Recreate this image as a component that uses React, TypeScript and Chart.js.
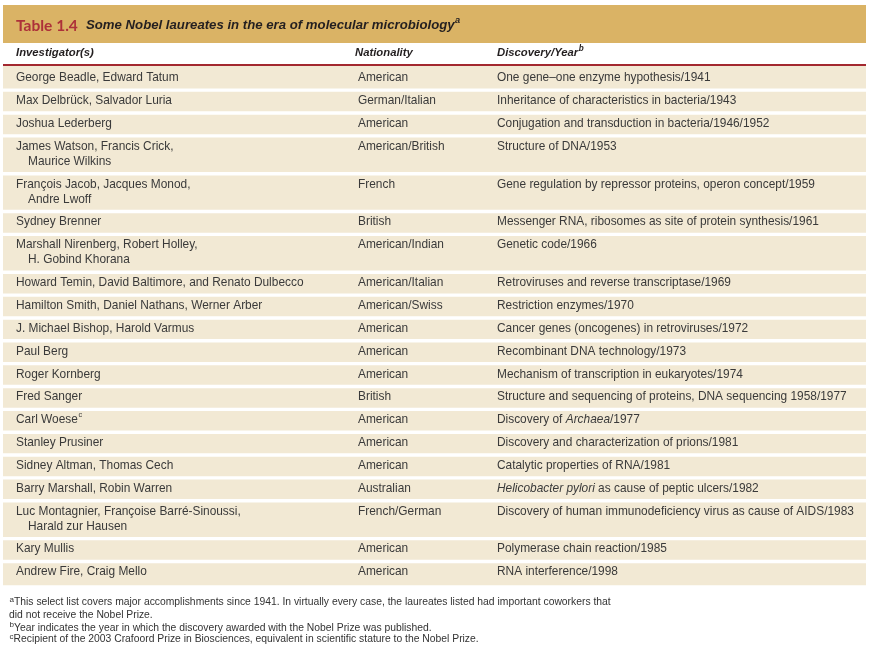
import React, { useEffect, useRef } from 'react';
import { Chart, registerables } from 'chart.js';

Chart.register(...registerables);

// ---------- data ----------
const tableNumber = 'Table 1.4';
const tableTitle = 'Some Nobel laureates in the era of molecular microbiology^a';
const columnHeaders = ['Investigator(s)', 'Nationality', 'Discovery/Year^b'];

const investigators = [
  'George Beadle, Edward Tatum',
  'Max Delbrück, Salvador Luria',
  'Joshua Lederberg',
  'James Watson, Francis Crick,\nMaurice Wilkins',
  'François Jacob, Jacques Monod,\nAndre Lwoff',
  'Sydney Brenner',
  'Marshall Nirenberg, Robert Holley,\nH. Gobind Khorana',
  'Howard Temin, David Baltimore, and Renato Dulbecco',
  'Hamilton Smith, Daniel Nathans, Werner Arber',
  'J. Michael Bishop, Harold Varmus',
  'Paul Berg',
  'Roger Kornberg',
  'Fred Sanger',
  'Carl Woese^c',
  'Stanley Prusiner',
  'Sidney Altman, Thomas Cech',
  'Barry Marshall, Robin Warren',
  'Luc Montagnier, Françoise Barré-Sinoussi,\nHarald zur Hausen',
  'Kary Mullis',
  'Andrew Fire, Craig Mello',
];

const nationalities = [
  'American',
  'German/Italian',
  'American',
  'American/British',
  'French',
  'British',
  'American/Indian',
  'American/Italian',
  'American/Swiss',
  'American',
  'American',
  'American',
  'British',
  'American',
  'American',
  'American',
  'Australian',
  'French/German',
  'American',
  'American',
];

const discoveries = [
  'One gene–one enzyme hypothesis/1941',
  'Inheritance of characteristics in bacteria/1943',
  'Conjugation and transduction in bacteria/1946/1952',
  'Structure of DNA/1953',
  'Gene regulation by repressor proteins, operon concept/1959',
  'Messenger RNA, ribosomes as site of protein synthesis/1961',
  'Genetic code/1966',
  'Retroviruses and reverse transcriptase/1969',
  'Restriction enzymes/1970',
  'Cancer genes (oncogenes) in retroviruses/1972',
  'Recombinant DNA technology/1973',
  'Mechanism of transcription in eukaryotes/1974',
  'Structure and sequencing of proteins, DNA sequencing 1958/1977',
  'Discovery of _Archaea_/1977',
  'Discovery and characterization of prions/1981',
  'Catalytic properties of RNA/1981',
  '_Helicobacter pylori_ as cause of peptic ulcers/1982',
  'Discovery of human immunodeficiency virus as cause of AIDS/1983',
  'Polymerase chain reaction/1985',
  'RNA interference/1998',
];

const footnotes = [
  '^aThis select list covers major accomplishments since 1941. In virtually every case, the laureates listed had important coworkers that',
  'did not receive the Nobel Prize.',
  '^bYear indicates the year in which the discovery awarded with the Nobel Prize was published.',
  '^cRecipient of the 2003 Crafoord Prize in Biosciences, equivalent in scientific stature to the Nobel Prize.',
];

// ---------- layout (table units, 1 unit = 1 px) ----------
const BAND_H = 38;
const HEADER_END = 59;
const RULE_H = 2;
const FIRST_ROW_TOP = 64;
const ROW_PITCH = 22.85;
const LINE_EXTRA = 15;
const ROW_GAP = 3.4;
const LAST_EXTRA = 3;

const lineCounts = investigators.map((s) => s.split('\n').length);
const rowTops: number[] = [];
{
  let t = FIRST_ROW_TOP;
  lineCounts.forEach((n) => {
    rowTops.push(t);
    t += ROW_PITCH + LINE_EXTRA * (n - 1);
  });
}
const rowBottoms = rowTops.map((t, i) => {
  let b = t + ROW_PITCH + LINE_EXTRA * (lineCounts[i] - 1) - ROW_GAP;
  if (i === rowTops.length - 1) b += LAST_EXTRA;
  return b;
});
const rowStarts = rowTops.map((t, i) => (i === 0 ? HEADER_END + RULE_H : t));
const TABLE_H = rowBottoms[rowBottoms.length - 1];

const COLORS = {
  band: '#dab365',
  rule: '#a3282f',
  row: '#f2e9d4',
  title: '#ad3139',
  dark: '#231f20',
  body: '#3a3a3a',
  note: '#333333',
};

const SANS = '"Liberation Sans", Arial, Helvetica, sans-serif';

type FontSpec = { size: number; weight?: string; italic?: boolean; family?: string };

function fontStr(f: FontSpec, italic: boolean, size: number) {
  return `${italic ? 'italic ' : ''}${f.weight || 'normal'} ${size}px ${f.family || SANS}`;
}

// '_' toggles italic, '^x' renders x as superscript
function drawRich(
  ctx: CanvasRenderingContext2D,
  text: string,
  x: number,
  y: number,
  f: FontSpec,
  color: string,
  supScale = 0.68,
  supRise = 0.38
) {
  let italic = !!f.italic;
  let cx = x;
  let buf = '';
  const flush = () => {
    if (!buf) return;
    ctx.font = fontStr(f, italic, f.size);
    ctx.fillText(buf, cx, y);
    cx += ctx.measureText(buf).width;
    buf = '';
  };
  ctx.fillStyle = color;
  ctx.textBaseline = 'middle';
  ctx.textAlign = 'left';
  for (let i = 0; i < text.length; i++) {
    const ch = text[i];
    if (ch === '_') {
      flush();
      italic = !italic;
    } else if (ch === '^' && i + 1 < text.length) {
      flush();
      const s = text[i + 1];
      const sz = f.size * supScale;
      ctx.font = fontStr(f, italic, sz);
      ctx.fillText(s, cx + 0.5, y - f.size * supRise);
      cx += ctx.measureText(s).width + 0.5;
      i++;
    } else {
      buf += ch;
    }
  }
  flush();
  return cx;
}

const tablePlugin = {
  id: 'tableText',
  afterDatasetsDraw(chart: any) {
    const { ctx, chartArea, scales } = chart;
    const ys = scales.y;
    const L = chartArea.left;
    const py = (v: number) => ys.getPixelForValue(v);
    ctx.save();

    // title
    ctx.font = `bold 15.5px Lato, "Open Sans", sans-serif`;
    ctx.fillStyle = COLORS.title;
    ctx.textBaseline = 'middle';
    ctx.textAlign = 'left';
    ctx.fillText(tableNumber, L + 13, py(20.5));
    drawRich(ctx, tableTitle, L + 83, py(20.8), { size: 13.2, weight: 'bold', italic: true }, COLORS.dark, 0.7, 0.42);

    // column headers
    const colX = [L + 13, L + 352, L + 494];
    const bodyX = [L + 13, L + 355, L + 494];
    columnHeaders.forEach((h, i) =>
      drawRich(ctx, h, colX[i], py(48), { size: 11.3, weight: 'bold', italic: true }, COLORS.dark, 0.72, 0.42)
    );

    // body
    const bf: FontSpec = { size: 11.9 };
    investigators.forEach((inv, r) => {
      const top = rowTops[r];
      const lines = inv.split('\n');
      lines.forEach((ln, k) => {
        drawRich(ctx, ln, k === 0 ? bodyX[0] : bodyX[0] + 12, py(top + 8.9 + k * LINE_EXTRA), bf, COLORS.body, 0.62, 0.4);
      });
      drawRich(ctx, nationalities[r], bodyX[1], py(top + 8.9), bf, COLORS.body);
      drawRich(ctx, discoveries[r], bodyX[2], py(top + 8.9), bf, COLORS.body);
    });

    // footnotes
    const fy = [TABLE_H + 16.8, TABLE_H + 29.5, TABLE_H + 42.2, TABLE_H + 54];
    footnotes.forEach((fn, i) => {
      drawRich(ctx, fn, L + 6, py(fy[i]), { size: 10.35 }, COLORS.note, 0.78, 0.3);
    });
    ctx.restore();
  },
};

export default function App() {
  const ref = useRef<HTMLCanvasElement | null>(null);

  useEffect(() => {
    if (!ref.current) return;
    const barCommon = {
      categoryPercentage: 1,
      barPercentage: 1,
      grouped: false,
      borderWidth: 0,
      borderSkipped: false,
      inflateAmount: 0,
    };
    const chart = new Chart(ref.current, {
      type: 'bar',
      data: {
        labels: ['table'],
        datasets: [
          {
            label: 'title band',
            data: [{ x: 'table', y: [0, BAND_H] }] as any,
            backgroundColor: COLORS.band,
            ...barCommon,
          },
          {
            label: 'header rule',
            data: [{ x: 'table', y: [HEADER_END, HEADER_END + RULE_H] }] as any,
            backgroundColor: COLORS.rule,
            ...barCommon,
          },
          {
            label: 'rows',
            data: rowStarts.map((s, i) => ({ x: 'table', y: [s, rowBottoms[i]] })) as any,
            backgroundColor: COLORS.row,
            ...barCommon,
          },
        ],
      },
      options: {
        animation: false,
        responsive: false,
        devicePixelRatio: 1,
        layout: { padding: { left: 3, right: 5, top: 5, bottom: 651 - 5 - TABLE_H } },
        scales: {
          x: { type: 'category', display: false, offset: true },
          y: { type: 'linear', display: false, reverse: true, min: 0, max: TABLE_H },
        },
        plugins: {
          legend: { display: false },
          tooltip: { enabled: false },
          title: { display: false },
        },
      } as any,
      plugins: [tablePlugin],
    });
    return () => chart.destroy();
  }, []);

  return (
    <div style={{ position: 'fixed', left: 0, top: 0, width: 871, height: 651, background: '#fff' }}>
      <canvas ref={ref} width={871} height={651} style={{ width: 871, height: 651, display: 'block' }} />
    </div>
  );
}
